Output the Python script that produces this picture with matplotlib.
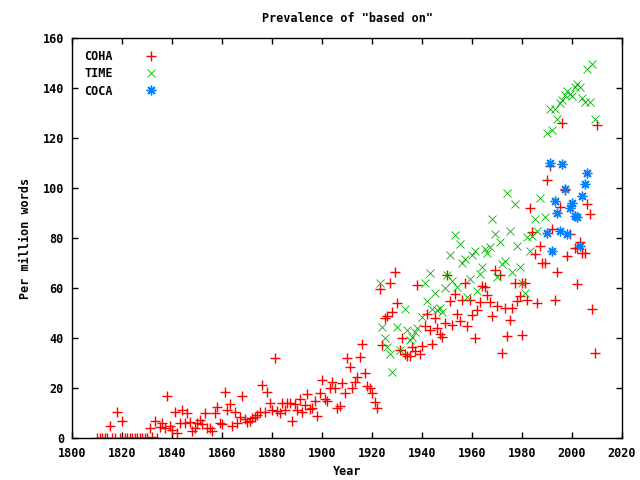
import matplotlib
matplotlib.use("Agg")
import matplotlib.pyplot as plt

# COHA, per million words
coha_years = [1810, 1811, 1812, 1813, 1814, 1815, 1816, 1817, 1818, 1819,
              1820, 1821, 1822, 1823, 1824, 1825, 1826, 1827, 1828, 1829,
              1830, 1831, 1832, 1833, 1834, 1835, 1836, 1837, 1838, 1839,
              1840, 1841, 1842, 1843, 1844, 1845, 1846, 1847, 1848, 1849,
              1850, 1851, 1852, 1853, 1854, 1855, 1856, 1857, 1858, 1859,
              1860, 1861, 1862, 1863, 1864, 1865, 1866, 1867, 1868, 1869,
              1870, 1871, 1872, 1873, 1874, 1875, 1876, 1877, 1878, 1879,
              1880, 1881, 1882, 1883, 1884, 1885, 1886, 1887, 1888, 1889,
              1890, 1891, 1892, 1893, 1894, 1895, 1896, 1897, 1898, 1899,
              1900, 1901, 1902, 1903, 1904, 1905, 1906, 1907, 1908, 1909,
              1910, 1911, 1912, 1913, 1914, 1915, 1916, 1917, 1918, 1919,
              1920, 1921, 1922, 1923, 1924, 1925, 1926, 1927, 1928, 1929,
              1930, 1931, 1932, 1933, 1934, 1935, 1936, 1937, 1938, 1939,
              1940, 1941, 1942, 1943, 1944, 1945, 1946, 1947, 1948, 1949,
              1950, 1951, 1952, 1953, 1954, 1955, 1956, 1957, 1958, 1959,
              1960, 1961, 1962, 1963, 1964, 1965, 1966, 1967, 1968, 1969,
              1970, 1971, 1972, 1973, 1974, 1975, 1976, 1977, 1978, 1979,
              1980, 1980, 1981, 1982, 1983, 1984, 1985, 1986, 1987, 1988, 1989,
              1990, 1991, 1992, 1993, 1994, 1995, 1996, 1997, 1998, 1999,
              2001, 2002, 2002, 2003, 2004, 2005, 2006, 2007, 2008, 2009, 2010]
coha_vals = [0, 0, 0, 0, 0, 4.8, 0, 0, 10.4, 0,
             6.8, 0, 0, 0, 0, 0, 0, 0, 0, 0,
             0, 4.1, 0.7, 6.8, 0, 4.4, 6.3, 4.0, 17.0, 5.0,
             3.3, 10.4, 2.1, 6.0, 11.3, 6.0, 10.3, 6.7, 3.0, 4.0,
             6.0, 7.3, 5.7, 10.0, 4.1, 4.1, 3.0, 10.3, 12.4, 6.0,
             5.6, 18.4, 11.3, 13.7, 4.8, 10.7, 6.0, 8.4, 16.9, 7.7,
             6.7, 7.0, 8.0, 8.7, 9.3, 10.4, 21.3, 10.4, 18.5, 14.0,
             11.3, 32.3, 11.0, 10.0, 14.3, 11.3, 14.3, 14.3, 7.0, 13.7,
             11.3, 15.6, 10.6, 13.3, 17.7, 11.6, 12.0, 14.9, 9.0, 18.3,
             23.3, 15.6, 14.9, 20.3, 22.7, 20.3, 12.0, 13.0, 22.0, 18.2,
             32.0, 28.4, 20.3, 22.7, 24.4, 32.6, 37.6, 26.0, 21.0, 20.0,
             18.0, 14.5, 12.0, 59.6, 37.3, 48.0, 48.9, 62.0, 50.6, 66.4,
             54.2, 35.3, 40.0, 33.7, 33.0, 33.0, 36.4, 35.0, 61.3, 33.7,
             37.0, 45.0, 49.6, 43.3, 37.7, 48.0, 44.0, 41.7, 40.4, 46.0,
             65.4, 54.8, 45.5, 57.7, 49.7, 47.0, 55.3, 62.3, 45.0, 55.3,
             49.3, 40.0, 51.3, 54.7, 61.0, 60.4, 57.3, 54.7, 48.9, 67.3,
             53.0, 65.3, 34.0, 52.0, 41.0, 47.3, 52.0, 62.0, 54.9, 56.9,
             62.3, 41.3, 62.3, 55.3, 92.3, 82.4, 73.7, 54.0, 76.9, 70.0, 70.0,
             103.4, 108.9, 83.6, 55.3, 66.7, 92.4, 126.3, 99.3, 73.1, 81.7,
             76.3, 61.7, 76.3, 78.4, 74.0, 74.0, 93.6, 89.6, 51.6, 34.0, 125.3]

# TIME
time_years = [1923, 1924, 1925, 1926, 1927, 1928, 1930, 1931, 1933, 1934,
              1935, 1936, 1937, 1938, 1940, 1941, 1942, 1943, 1944, 1945,
              1946, 1947, 1948, 1949, 1950, 1951, 1952, 1953, 1954, 1955,
              1956, 1957, 1958, 1959, 1960, 1961, 1962, 1963, 1964, 1965,
              1966, 1967, 1968, 1969, 1970, 1971, 1972, 1973, 1974, 1975,
              1976, 1977, 1978, 1979, 1980, 1981, 1982, 1983, 1984, 1985,
              1986, 1987, 1989, 1990, 1991, 1992, 1993, 1994, 1995, 1996,
              1997, 1998, 1999, 2000, 2001, 2002, 2003, 2004, 2005, 2006,
              2007, 2008, 2009]
time_vals = [62.0, 44.6, 40.0, 36.7, 33.7, 26.5, 44.4, 35.3, 51.6, 43.3,
             39.3, 40.6, 42.6, 44.0, 48.4, 62.3, 55.0, 66.0, 51.6, 58.2,
             51.2, 52.2, 50.6, 60.3, 65.3, 73.3, 63.0, 81.3, 60.7, 77.6,
             70.3, 71.7, 56.4, 63.6, 73.5, 75.0, 59.0, 65.7, 68.4, 75.9,
             74.0, 76.5, 87.7, 81.7, 64.7, 78.4, 69.7, 71.0, 98.3, 83.0,
             66.4, 93.7, 76.8, 68.4, 62.3, 58.3, 80.7, 75.0, 80.8, 87.7,
             83.1, 96.0, 88.7, 122.3, 131.7, 123.3, 131.7, 127.7, 134.3, 135.3,
             137.3, 139.0, 137.7, 136.9, 140.7, 141.6, 140.7, 136.0, 134.4, 147.6,
             134.7, 149.6, 127.6]

# COCA
coca_years = [1990, 1991, 1992, 1993, 1994, 1995, 1996, 1997, 1998, 1999,
              2000, 2001, 2002, 2003, 2004, 2005, 2006]
coca_vals = [82.3, 110.2, 75.0, 94.9, 90.3, 82.9, 109.7, 99.7, 81.6, 92.0,
             94.2, 89.0, 88.6, 76.8, 96.9, 101.9, 106.3]

plt.rcParams['font.family'] = 'DejaVu Sans Mono'
plt.rcParams['font.weight'] = 'bold'
plt.rcParams['font.size'] = 8.5

fig = plt.figure(figsize=(6.4, 4.8), dpi=100)
ax = fig.add_axes([0.113, 0.0869, 0.859, 0.833])

ax.plot(coha_years, coha_vals, linestyle='none', marker='+', color='#ff0000',
        markersize=6.5, markeredgewidth=1.0, label='COHA')
ax.plot(time_years, time_vals, linestyle='none', marker='x', color='#00b000',
        markersize=5.5, markeredgewidth=0.6, label='TIME')
ax.plot(coca_years, coca_vals, linestyle='none', marker=(8, 2, 0), color='#0080ff',
        markersize=7, markeredgewidth=1.0, label='COCA')

ax.set_xlim(1800, 2020)
ax.set_ylim(0, 160)
ax.set_xticks(range(1800, 2021, 20))
ax.set_yticks(range(0, 161, 20))
ax.tick_params(direction='in', top=True, right=True, length=4, width=1, pad=6)
for s in ax.spines.values():
    s.set_linewidth(1)

ax.set_title('Prevalence of "based on"', fontsize=8.5, fontweight='bold', pad=12)
ax.set_xlabel('Year', fontweight='bold', labelpad=4)
ax.set_ylabel('Per million words', fontweight='bold', labelpad=8)

ax.legend(loc='upper left', frameon=False, markerfirst=False, handlelength=1.5,
          handletextpad=2.5, labelspacing=0.35, borderaxespad=0.6, fontsize=8.5)

fig.savefig('out.png', dpi=100)
